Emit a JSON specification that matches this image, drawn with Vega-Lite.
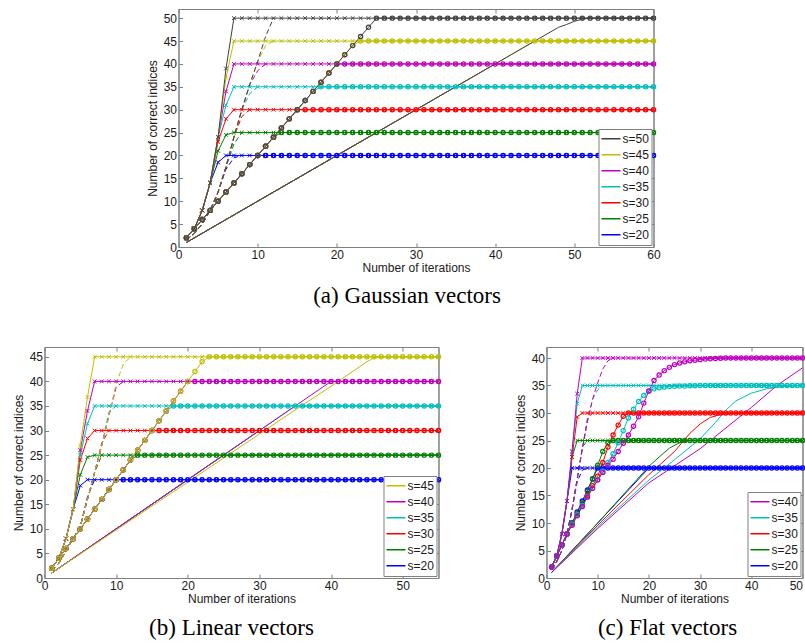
{
"$schema":"https://vega.github.io/schema/vega-lite/v6.json",
"padding":{"left":11,"top":8,"right":0,"bottom":0},
"config":{"font":"Liberation Sans","view":{"stroke":"#808080","strokeWidth":1},
"axis":{"labelFont":"Liberation Sans","labelFontSize":12,"labelColor":"#1a1a1a","titleFont":"Liberation Sans","titleFontSize":12,"titleFontWeight":"normal","titleColor":"#1a1a1a","domainColor":"#808080","tickColor":"#808080","tickSize":-4,"labelPadding":6,"titlePadding":3,"grid":false,"labelFlush":false},
"legend":{"labelFont":"Liberation Sans","labelFontSize":12,"labelColor":"#1a1a1a"},
"title":{"font":"Liberation Serif","fontSize":23,"fontWeight":"normal","color":"#000000","orient":"bottom","anchor":"middle","frame":"group"},
"mark":{"invalid":"filter"}},
"datasets":{
"Aa":[
{"x":1,"20":2,"25":2,"30":2,"35":2,"40":2,"45":2,"50":2},
{"x":2,"20":4,"25":4,"30":4,"35":4,"40":4,"45":4,"50":4},
{"x":3,"20":8,"25":8,"30":8,"35":8,"40":8,"45":8,"50":8},
{"x":4,"20":14,"25":14,"30":14,"35":14,"40":14,"45":14,"50":14},
{"x":5,"20":18.5,"25":21,"30":23,"35":24,"40":24,"45":24,"50":24},
{"x":6,"20":20,"25":24.5,"30":28,"35":31,"40":34,"45":37,"50":39},
{"x":7,"20":20,"25":25,"30":30,"35":35,"40":40,"45":45,"50":50},
{"x":8,"20":20,"25":25,"30":30,"35":35,"40":40,"45":45,"50":50},
{"x":9,"20":20,"25":25,"30":30,"35":35,"40":40,"45":45,"50":50},
{"x":10,"20":20,"25":25,"30":30,"35":35,"40":40,"45":45,"50":50},
{"x":11,"20":20,"25":25,"30":30,"35":35,"40":40,"45":45,"50":50},
{"x":12,"20":20,"25":25,"30":30,"35":35,"40":40,"45":45,"50":50},
{"x":13,"20":20,"25":25,"30":30,"35":35,"40":40,"45":45,"50":50},
{"x":14,"20":20,"25":25,"30":30,"35":35,"40":40,"45":45,"50":50},
{"x":15,"20":20,"25":25,"30":30,"35":35,"40":40,"45":45,"50":50},
{"x":16,"20":20,"25":25,"30":30,"35":35,"40":40,"45":45,"50":50},
{"x":17,"20":20,"25":25,"30":30,"35":35,"40":40,"45":45,"50":50},
{"x":18,"20":20,"25":25,"30":30,"35":35,"40":40,"45":45,"50":50},
{"x":19,"20":20,"25":25,"30":30,"35":35,"40":40,"45":45,"50":50},
{"x":20,"20":20,"25":25,"30":30,"35":35,"40":40,"45":45,"50":50},
{"x":21,"20":20,"25":25,"30":30,"35":35,"40":40,"45":45,"50":50},
{"x":22,"20":20,"25":25,"30":30,"35":35,"40":40,"45":45,"50":50},
{"x":23,"20":20,"25":25,"30":30,"35":35,"40":40,"45":45,"50":50},
{"x":24,"20":20,"25":25,"30":30,"35":35,"40":40,"45":45,"50":50},
{"x":25,"20":20,"25":25,"30":30,"35":35,"40":40,"45":45,"50":50},
{"x":26,"20":20,"25":25,"30":30,"35":35,"40":40,"45":45,"50":50},
{"x":27,"20":20,"25":25,"30":30,"35":35,"40":40,"45":45,"50":50},
{"x":28,"20":20,"25":25,"30":30,"35":35,"40":40,"45":45,"50":50},
{"x":29,"20":20,"25":25,"30":30,"35":35,"40":40,"45":45,"50":50},
{"x":30,"20":20,"25":25,"30":30,"35":35,"40":40,"45":45,"50":50},
{"x":31,"20":20,"25":25,"30":30,"35":35,"40":40,"45":45,"50":50},
{"x":32,"20":20,"25":25,"30":30,"35":35,"40":40,"45":45,"50":50},
{"x":33,"20":20,"25":25,"30":30,"35":35,"40":40,"45":45,"50":50},
{"x":34,"20":20,"25":25,"30":30,"35":35,"40":40,"45":45,"50":50},
{"x":35,"20":20,"25":25,"30":30,"35":35,"40":40,"45":45,"50":50},
{"x":36,"20":20,"25":25,"30":30,"35":35,"40":40,"45":45,"50":50},
{"x":37,"20":20,"25":25,"30":30,"35":35,"40":40,"45":45,"50":50},
{"x":38,"20":20,"25":25,"30":30,"35":35,"40":40,"45":45,"50":50},
{"x":39,"20":20,"25":25,"30":30,"35":35,"40":40,"45":45,"50":50},
{"x":40,"20":20,"25":25,"30":30,"35":35,"40":40,"45":45,"50":50},
{"x":41,"20":20,"25":25,"30":30,"35":35,"40":40,"45":45,"50":50},
{"x":42,"20":20,"25":25,"30":30,"35":35,"40":40,"45":45,"50":50},
{"x":43,"20":20,"25":25,"30":30,"35":35,"40":40,"45":45,"50":50},
{"x":44,"20":20,"25":25,"30":30,"35":35,"40":40,"45":45,"50":50},
{"x":45,"20":20,"25":25,"30":30,"35":35,"40":40,"45":45,"50":50},
{"x":46,"20":20,"25":25,"30":30,"35":35,"40":40,"45":45,"50":50},
{"x":47,"20":20,"25":25,"30":30,"35":35,"40":40,"45":45,"50":50},
{"x":48,"20":20,"25":25,"30":30,"35":35,"40":40,"45":45,"50":50},
{"x":49,"20":20,"25":25,"30":30,"35":35,"40":40,"45":45,"50":50},
{"x":50,"20":20,"25":25,"30":30,"35":35,"40":40,"45":45,"50":50},
{"x":51,"20":20,"25":25,"30":30,"35":35,"40":40,"45":45,"50":50},
{"x":52,"20":20,"25":25,"30":30,"35":35,"40":40,"45":45,"50":50},
{"x":53,"20":20,"25":25,"30":30,"35":35,"40":40,"45":45,"50":50},
{"x":54,"20":20,"25":25,"30":30,"35":35,"40":40,"45":45,"50":50},
{"x":55,"20":20,"25":25,"30":30,"35":35,"40":40,"45":45,"50":50},
{"x":56,"20":20,"25":25,"30":30,"35":35,"40":40,"45":45,"50":50},
{"x":57,"20":20,"25":25,"30":30,"35":35,"40":40,"45":45,"50":50},
{"x":58,"20":20,"25":25,"30":30,"35":35,"40":40,"45":45,"50":50},
{"x":59,"20":20,"25":25,"30":30,"35":35,"40":40,"45":45,"50":50},
{"x":60,"20":20,"25":25,"30":30,"35":35,"40":40,"45":45,"50":50}],
"Ca":[
{"x":1,"20":2,"25":2,"30":2,"35":2,"40":2,"45":2,"50":2},
{"x":2,"20":4,"25":4,"30":4,"35":4,"40":4,"45":4,"50":4},
{"x":3,"20":6,"25":6,"30":6,"35":6,"40":6,"45":6,"50":6},
{"x":4,"20":8,"25":8,"30":8,"35":8,"40":8,"45":8,"50":8},
{"x":5,"20":10,"25":10,"30":10,"35":10,"40":10,"45":10,"50":10},
{"x":6,"20":12,"25":12,"30":12,"35":12,"40":12,"45":12,"50":12},
{"x":7,"20":14,"25":14,"30":14,"35":14,"40":14,"45":14,"50":14},
{"x":8,"20":16,"25":16,"30":16,"35":16,"40":16,"45":16,"50":16},
{"x":9,"20":18,"25":18,"30":18,"35":18,"40":18,"45":18,"50":18},
{"x":10,"20":20,"25":20,"30":20,"35":20,"40":20,"45":20,"50":20},
{"x":11,"20":20,"25":22,"30":22,"35":22,"40":22,"45":22,"50":22},
{"x":12,"20":20,"25":24,"30":24,"35":24,"40":24,"45":24,"50":24},
{"x":13,"20":20,"25":25,"30":26,"35":26,"40":26,"45":26,"50":26},
{"x":14,"20":20,"25":25,"30":28,"35":28,"40":28,"45":28,"50":28},
{"x":15,"20":20,"25":25,"30":30,"35":30,"40":30,"45":30,"50":30},
{"x":16,"20":20,"25":25,"30":30,"35":32,"40":32,"45":32,"50":32},
{"x":17,"20":20,"25":25,"30":30,"35":34,"40":34,"45":34,"50":34},
{"x":18,"20":20,"25":25,"30":30,"35":35,"40":36,"45":36,"50":36},
{"x":19,"20":20,"25":25,"30":30,"35":35,"40":38,"45":38,"50":38},
{"x":20,"20":20,"25":25,"30":30,"35":35,"40":40,"45":40,"50":40},
{"x":21,"20":20,"25":25,"30":30,"35":35,"40":40,"45":42,"50":42},
{"x":22,"20":20,"25":25,"30":30,"35":35,"40":40,"45":44,"50":44},
{"x":23,"20":20,"25":25,"30":30,"35":35,"40":40,"45":45,"50":46},
{"x":24,"20":20,"25":25,"30":30,"35":35,"40":40,"45":45,"50":48},
{"x":25,"20":20,"25":25,"30":30,"35":35,"40":40,"45":45,"50":50},
{"x":26,"20":20,"25":25,"30":30,"35":35,"40":40,"45":45,"50":50},
{"x":27,"20":20,"25":25,"30":30,"35":35,"40":40,"45":45,"50":50},
{"x":28,"20":20,"25":25,"30":30,"35":35,"40":40,"45":45,"50":50},
{"x":29,"20":20,"25":25,"30":30,"35":35,"40":40,"45":45,"50":50},
{"x":30,"20":20,"25":25,"30":30,"35":35,"40":40,"45":45,"50":50},
{"x":31,"20":20,"25":25,"30":30,"35":35,"40":40,"45":45,"50":50},
{"x":32,"20":20,"25":25,"30":30,"35":35,"40":40,"45":45,"50":50},
{"x":33,"20":20,"25":25,"30":30,"35":35,"40":40,"45":45,"50":50},
{"x":34,"20":20,"25":25,"30":30,"35":35,"40":40,"45":45,"50":50},
{"x":35,"20":20,"25":25,"30":30,"35":35,"40":40,"45":45,"50":50},
{"x":36,"20":20,"25":25,"30":30,"35":35,"40":40,"45":45,"50":50},
{"x":37,"20":20,"25":25,"30":30,"35":35,"40":40,"45":45,"50":50},
{"x":38,"20":20,"25":25,"30":30,"35":35,"40":40,"45":45,"50":50},
{"x":39,"20":20,"25":25,"30":30,"35":35,"40":40,"45":45,"50":50},
{"x":40,"20":20,"25":25,"30":30,"35":35,"40":40,"45":45,"50":50},
{"x":41,"20":20,"25":25,"30":30,"35":35,"40":40,"45":45,"50":50},
{"x":42,"20":20,"25":25,"30":30,"35":35,"40":40,"45":45,"50":50},
{"x":43,"20":20,"25":25,"30":30,"35":35,"40":40,"45":45,"50":50},
{"x":44,"20":20,"25":25,"30":30,"35":35,"40":40,"45":45,"50":50},
{"x":45,"20":20,"25":25,"30":30,"35":35,"40":40,"45":45,"50":50},
{"x":46,"20":20,"25":25,"30":30,"35":35,"40":40,"45":45,"50":50},
{"x":47,"20":20,"25":25,"30":30,"35":35,"40":40,"45":45,"50":50},
{"x":48,"20":20,"25":25,"30":30,"35":35,"40":40,"45":45,"50":50},
{"x":49,"20":20,"25":25,"30":30,"35":35,"40":40,"45":45,"50":50},
{"x":50,"20":20,"25":25,"30":30,"35":35,"40":40,"45":45,"50":50},
{"x":51,"20":20,"25":25,"30":30,"35":35,"40":40,"45":45,"50":50},
{"x":52,"20":20,"25":25,"30":30,"35":35,"40":40,"45":45,"50":50},
{"x":53,"20":20,"25":25,"30":30,"35":35,"40":40,"45":45,"50":50},
{"x":54,"20":20,"25":25,"30":30,"35":35,"40":40,"45":45,"50":50},
{"x":55,"20":20,"25":25,"30":30,"35":35,"40":40,"45":45,"50":50},
{"x":56,"20":20,"25":25,"30":30,"35":35,"40":40,"45":45,"50":50},
{"x":57,"20":20,"25":25,"30":30,"35":35,"40":40,"45":45,"50":50},
{"x":58,"20":20,"25":25,"30":30,"35":35,"40":40,"45":45,"50":50},
{"x":59,"20":20,"25":25,"30":30,"35":35,"40":40,"45":45,"50":50},
{"x":60,"20":20,"25":25,"30":30,"35":35,"40":40,"45":45,"50":50}],
"Ba":[
{"x":1,"20":1.5,"25":1.5,"30":1.5,"35":1.5,"40":1.5,"45":1.5,"50":1.5},
{"x":2,"20":3,"25":3,"30":3,"35":3,"40":3,"45":3,"50":3},
{"x":3,"20":5,"25":5,"30":5,"35":5,"40":5,"45":5,"50":5},
{"x":4,"20":8,"25":8,"30":8,"35":8,"40":8,"45":8,"50":8},
{"x":5,"20":12,"25":12,"30":12,"35":12,"40":12,"45":12,"50":12},
{"x":6,"20":17,"25":17.5,"30":17.5,"35":17.5,"40":17.5,"45":17.5,"50":17.5},
{"x":7,"20":19.5,"25":22.5,"30":24,"35":24,"40":24,"45":24,"50":24},
{"x":8,"20":20,"25":25,"30":28.5,"35":30,"40":30,"45":30,"50":30},
{"x":9,"30":30,"35":33.5,"40":35.5,"45":35.5,"50":35.5},
{"x":10,"35":35,"40":38.5,"45":40.5,"50":40.5},
{"x":11,"40":40,"45":44,"50":46},
{"x":12,"45":45,"50":50}],
"Da":[
{"x":1,"20":1,"25":1,"30":1,"35":1,"40":1,"45":1,"50":1},
{"x":20,"20":20,"25":20,"30":20,"35":20,"40":20,"45":20,"50":20},
{"x":25,"20":20,"25":25,"30":25,"35":25,"40":25,"45":25,"50":25},
{"x":30,"20":20,"25":25,"30":30,"35":30,"40":30,"45":30,"50":30},
{"x":35,"20":20,"25":25,"30":30,"35":35,"40":35,"45":35,"50":35},
{"x":40,"20":20,"25":25,"30":30,"35":35,"40":40,"45":40,"50":40},
{"x":45,"20":20,"25":25,"30":30,"35":35,"40":40,"45":45,"50":45},
{"x":48,"50":48},
{"x":49,"50":48.6},
{"x":50,"50":49.3},
{"x":51,"50":49.8},
{"x":52,"50":50},
{"x":60,"20":20,"25":25,"30":30,"35":35,"40":40,"45":45,"50":50}],
"Ab":[
{"x":1,"20":2,"25":2,"30":2,"35":2,"40":2,"45":2},
{"x":2,"20":4,"25":4,"30":4,"35":4,"40":4,"45":4},
{"x":3,"20":8,"25":8,"30":8,"35":8,"40":8,"45":8},
{"x":4,"20":14,"25":14,"30":14,"35":14,"40":14,"45":14},
{"x":5,"20":18.8,"25":21,"30":24,"35":25,"40":26,"45":27},
{"x":6,"20":20,"25":24.6,"30":28.4,"35":31.4,"40":34,"45":36.8},
{"x":7,"20":20,"25":25,"30":30,"35":35,"40":40,"45":45},
{"x":8,"20":20,"25":25,"30":30,"35":35,"40":40,"45":45},
{"x":9,"20":20,"25":25,"30":30,"35":35,"40":40,"45":45},
{"x":10,"20":20,"25":25,"30":30,"35":35,"40":40,"45":45},
{"x":11,"20":20,"25":25,"30":30,"35":35,"40":40,"45":45},
{"x":12,"20":20,"25":25,"30":30,"35":35,"40":40,"45":45},
{"x":13,"20":20,"25":25,"30":30,"35":35,"40":40,"45":45},
{"x":14,"20":20,"25":25,"30":30,"35":35,"40":40,"45":45},
{"x":15,"20":20,"25":25,"30":30,"35":35,"40":40,"45":45},
{"x":16,"20":20,"25":25,"30":30,"35":35,"40":40,"45":45},
{"x":17,"20":20,"25":25,"30":30,"35":35,"40":40,"45":45},
{"x":18,"20":20,"25":25,"30":30,"35":35,"40":40,"45":45},
{"x":19,"20":20,"25":25,"30":30,"35":35,"40":40,"45":45},
{"x":20,"20":20,"25":25,"30":30,"35":35,"40":40,"45":45},
{"x":21,"20":20,"25":25,"30":30,"35":35,"40":40,"45":45},
{"x":22,"20":20,"25":25,"30":30,"35":35,"40":40,"45":45},
{"x":23,"20":20,"25":25,"30":30,"35":35,"40":40,"45":45},
{"x":24,"20":20,"25":25,"30":30,"35":35,"40":40,"45":45},
{"x":25,"20":20,"25":25,"30":30,"35":35,"40":40,"45":45},
{"x":26,"20":20,"25":25,"30":30,"35":35,"40":40,"45":45},
{"x":27,"20":20,"25":25,"30":30,"35":35,"40":40,"45":45},
{"x":28,"20":20,"25":25,"30":30,"35":35,"40":40,"45":45},
{"x":29,"20":20,"25":25,"30":30,"35":35,"40":40,"45":45},
{"x":30,"20":20,"25":25,"30":30,"35":35,"40":40,"45":45},
{"x":31,"20":20,"25":25,"30":30,"35":35,"40":40,"45":45},
{"x":32,"20":20,"25":25,"30":30,"35":35,"40":40,"45":45},
{"x":33,"20":20,"25":25,"30":30,"35":35,"40":40,"45":45},
{"x":34,"20":20,"25":25,"30":30,"35":35,"40":40,"45":45},
{"x":35,"20":20,"25":25,"30":30,"35":35,"40":40,"45":45},
{"x":36,"20":20,"25":25,"30":30,"35":35,"40":40,"45":45},
{"x":37,"20":20,"25":25,"30":30,"35":35,"40":40,"45":45},
{"x":38,"20":20,"25":25,"30":30,"35":35,"40":40,"45":45},
{"x":39,"20":20,"25":25,"30":30,"35":35,"40":40,"45":45},
{"x":40,"20":20,"25":25,"30":30,"35":35,"40":40,"45":45},
{"x":41,"20":20,"25":25,"30":30,"35":35,"40":40,"45":45},
{"x":42,"20":20,"25":25,"30":30,"35":35,"40":40,"45":45},
{"x":43,"20":20,"25":25,"30":30,"35":35,"40":40,"45":45},
{"x":44,"20":20,"25":25,"30":30,"35":35,"40":40,"45":45},
{"x":45,"20":20,"25":25,"30":30,"35":35,"40":40,"45":45},
{"x":46,"20":20,"25":25,"30":30,"35":35,"40":40,"45":45},
{"x":47,"20":20,"25":25,"30":30,"35":35,"40":40,"45":45},
{"x":48,"20":20,"25":25,"30":30,"35":35,"40":40,"45":45},
{"x":49,"20":20,"25":25,"30":30,"35":35,"40":40,"45":45},
{"x":50,"20":20,"25":25,"30":30,"35":35,"40":40,"45":45},
{"x":51,"20":20,"25":25,"30":30,"35":35,"40":40,"45":45},
{"x":52,"20":20,"25":25,"30":30,"35":35,"40":40,"45":45},
{"x":53,"20":20,"25":25,"30":30,"35":35,"40":40,"45":45},
{"x":54,"20":20,"25":25,"30":30,"35":35,"40":40,"45":45},
{"x":55,"20":20,"25":25,"30":30,"35":35,"40":40,"45":45}],
"Cb":[
{"x":1,"20":2,"25":2,"30":2,"35":2,"40":2,"45":2},
{"x":2,"20":4,"25":4,"30":4,"35":4,"40":4,"45":4},
{"x":3,"20":6,"25":6,"30":6,"35":6,"40":6,"45":6},
{"x":4,"20":8,"25":8,"30":8,"35":8,"40":8,"45":8},
{"x":5,"20":10,"25":10,"30":10,"35":10,"40":10,"45":10},
{"x":6,"20":12,"25":12,"30":12,"35":12,"40":12,"45":12},
{"x":7,"20":14,"25":14,"30":14,"35":14,"40":14,"45":14},
{"x":8,"20":16,"25":16,"30":16,"35":16,"40":16,"45":16},
{"x":9,"20":18,"25":18,"30":18,"35":18,"40":18,"45":18},
{"x":10,"20":20,"25":20,"30":20,"35":20,"40":20,"45":20},
{"x":11,"20":20,"25":22,"30":22,"35":22,"40":22,"45":22},
{"x":12,"20":20,"25":24,"30":24,"35":24,"40":24,"45":24},
{"x":13,"20":20,"25":25,"30":26,"35":26,"40":26,"45":26},
{"x":14,"20":20,"25":25,"30":28,"35":28,"40":28,"45":28},
{"x":15,"20":20,"25":25,"30":30,"35":30,"40":30,"45":30},
{"x":16,"20":20,"25":25,"30":30,"35":32,"40":32,"45":32},
{"x":17,"20":20,"25":25,"30":30,"35":34,"40":34,"45":34},
{"x":18,"20":20,"25":25,"30":30,"35":35,"40":36,"45":36},
{"x":19,"20":20,"25":25,"30":30,"35":35,"40":38,"45":38},
{"x":20,"20":20,"25":25,"30":30,"35":35,"40":40,"45":40},
{"x":21,"20":20,"25":25,"30":30,"35":35,"40":40,"45":42},
{"x":22,"20":20,"25":25,"30":30,"35":35,"40":40,"45":44},
{"x":23,"20":20,"25":25,"30":30,"35":35,"40":40,"45":45},
{"x":24,"20":20,"25":25,"30":30,"35":35,"40":40,"45":45},
{"x":25,"20":20,"25":25,"30":30,"35":35,"40":40,"45":45},
{"x":26,"20":20,"25":25,"30":30,"35":35,"40":40,"45":45},
{"x":27,"20":20,"25":25,"30":30,"35":35,"40":40,"45":45},
{"x":28,"20":20,"25":25,"30":30,"35":35,"40":40,"45":45},
{"x":29,"20":20,"25":25,"30":30,"35":35,"40":40,"45":45},
{"x":30,"20":20,"25":25,"30":30,"35":35,"40":40,"45":45},
{"x":31,"20":20,"25":25,"30":30,"35":35,"40":40,"45":45},
{"x":32,"20":20,"25":25,"30":30,"35":35,"40":40,"45":45},
{"x":33,"20":20,"25":25,"30":30,"35":35,"40":40,"45":45},
{"x":34,"20":20,"25":25,"30":30,"35":35,"40":40,"45":45},
{"x":35,"20":20,"25":25,"30":30,"35":35,"40":40,"45":45},
{"x":36,"20":20,"25":25,"30":30,"35":35,"40":40,"45":45},
{"x":37,"20":20,"25":25,"30":30,"35":35,"40":40,"45":45},
{"x":38,"20":20,"25":25,"30":30,"35":35,"40":40,"45":45},
{"x":39,"20":20,"25":25,"30":30,"35":35,"40":40,"45":45},
{"x":40,"20":20,"25":25,"30":30,"35":35,"40":40,"45":45},
{"x":41,"20":20,"25":25,"30":30,"35":35,"40":40,"45":45},
{"x":42,"20":20,"25":25,"30":30,"35":35,"40":40,"45":45},
{"x":43,"20":20,"25":25,"30":30,"35":35,"40":40,"45":45},
{"x":44,"20":20,"25":25,"30":30,"35":35,"40":40,"45":45},
{"x":45,"20":20,"25":25,"30":30,"35":35,"40":40,"45":45},
{"x":46,"20":20,"25":25,"30":30,"35":35,"40":40,"45":45},
{"x":47,"20":20,"25":25,"30":30,"35":35,"40":40,"45":45},
{"x":48,"20":20,"25":25,"30":30,"35":35,"40":40,"45":45},
{"x":49,"20":20,"25":25,"30":30,"35":35,"40":40,"45":45},
{"x":50,"20":20,"25":25,"30":30,"35":35,"40":40,"45":45},
{"x":51,"20":20,"25":25,"30":30,"35":35,"40":40,"45":45},
{"x":52,"20":20,"25":25,"30":30,"35":35,"40":40,"45":45},
{"x":53,"20":20,"25":25,"30":30,"35":35,"40":40,"45":45},
{"x":54,"20":20,"25":25,"30":30,"35":35,"40":40,"45":45},
{"x":55,"20":20,"25":25,"30":30,"35":35,"40":40,"45":45}],
"Bb":[
{"x":1,"20":1.5,"25":1.5,"30":1.5,"35":1.5,"40":1.5,"45":1.5},
{"x":2,"20":3,"25":3,"30":3,"35":3,"40":3,"45":3},
{"x":3,"20":5.5,"25":5.5,"30":5.5,"35":5.5,"40":5.5,"45":5.5},
{"x":4,"20":8,"25":8,"30":8,"35":8,"40":8,"45":8},
{"x":5,"20":10.5,"25":10.5,"30":10.5,"35":10.5,"40":10.5,"45":10.5},
{"x":6,"20":16.5,"25":16,"30":16,"35":16,"40":16,"45":16},
{"x":7,"20":20,"25":21.5,"30":21.5,"35":21.5,"40":21.5,"45":21.5},
{"x":8,"25":25,"30":27.5,"35":27,"40":27,"45":27},
{"x":9,"30":30,"35":33.8,"40":33,"45":33},
{"x":10,"35":35,"40":38.8,"45":39.5},
{"x":11,"40":40,"45":43.5},
{"x":12,"45":45}],
"Db":[
{"x":1,"20":1,"25":1,"30":1,"35":1,"40":1,"45":1},
{"x":20,"20":20,"25":20,"30":20,"35":20,"40":20,"45":19.5},
{"x":25,"20":20,"25":25,"30":25,"35":25,"40":25,"45":24.4},
{"x":30,"20":20,"25":25,"30":30,"35":30,"40":30,"45":29.3},
{"x":35,"20":20,"25":25,"30":30,"35":35,"40":35,"45":34.2},
{"x":40,"20":20,"25":25,"30":30,"35":35,"40":40,"45":39},
{"x":41,"45":40},
{"x":45,"45":44},
{"x":46,"45":44.8},
{"x":47,"45":45},
{"x":55,"20":20,"25":25,"30":30,"35":35,"40":40,"45":45}],
"Ac":[
{"x":1,"20":2,"25":2,"30":2,"35":2,"40":2},
{"x":2,"20":4,"25":4,"30":4,"35":4,"40":4},
{"x":3,"20":8,"25":8,"30":8,"35":8,"40":8},
{"x":4,"20":14,"25":14,"30":14,"35":14,"40":14},
{"x":5,"20":20,"25":22,"30":22,"35":23,"40":23},
{"x":6,"20":20,"25":25,"30":29.3,"35":31.7,"40":33.5},
{"x":7,"20":20,"25":25,"30":30,"35":35,"40":40},
{"x":8,"20":20,"25":25,"30":30,"35":35,"40":40},
{"x":9,"20":20,"25":25,"30":30,"35":35,"40":40},
{"x":10,"20":20,"25":25,"30":30,"35":35,"40":40},
{"x":11,"20":20,"25":25,"30":30,"35":35,"40":40},
{"x":12,"20":20,"25":25,"30":30,"35":35,"40":40},
{"x":13,"20":20,"25":25,"30":30,"35":35,"40":40},
{"x":14,"20":20,"25":25,"30":30,"35":35,"40":40},
{"x":15,"20":20,"25":25,"30":30,"35":35,"40":40},
{"x":16,"20":20,"25":25,"30":30,"35":35,"40":40},
{"x":17,"20":20,"25":25,"30":30,"35":35,"40":40},
{"x":18,"20":20,"25":25,"30":30,"35":35,"40":40},
{"x":19,"20":20,"25":25,"30":30,"35":35,"40":40},
{"x":20,"20":20,"25":25,"30":30,"35":35,"40":40},
{"x":21,"20":20,"25":25,"30":30,"35":35,"40":40},
{"x":22,"20":20,"25":25,"30":30,"35":35,"40":40},
{"x":23,"20":20,"25":25,"30":30,"35":35,"40":40},
{"x":24,"20":20,"25":25,"30":30,"35":35,"40":40},
{"x":25,"20":20,"25":25,"30":30,"35":35,"40":40},
{"x":26,"20":20,"25":25,"30":30,"35":35,"40":40},
{"x":27,"20":20,"25":25,"30":30,"35":35,"40":40},
{"x":28,"20":20,"25":25,"30":30,"35":35,"40":40},
{"x":29,"20":20,"25":25,"30":30,"35":35,"40":40},
{"x":30,"20":20,"25":25,"30":30,"35":35,"40":40},
{"x":31,"20":20,"25":25,"30":30,"35":35,"40":40},
{"x":32,"20":20,"25":25,"30":30,"35":35,"40":40},
{"x":33,"20":20,"25":25,"30":30,"35":35,"40":40},
{"x":34,"20":20,"25":25,"30":30,"35":35,"40":40},
{"x":35,"20":20,"25":25,"30":30,"35":35,"40":40},
{"x":36,"20":20,"25":25,"30":30,"35":35,"40":40},
{"x":37,"20":20,"25":25,"30":30,"35":35,"40":40},
{"x":38,"20":20,"25":25,"30":30,"35":35,"40":40},
{"x":39,"20":20,"25":25,"30":30,"35":35,"40":40},
{"x":40,"20":20,"25":25,"30":30,"35":35,"40":40},
{"x":41,"20":20,"25":25,"30":30,"35":35,"40":40},
{"x":42,"20":20,"25":25,"30":30,"35":35,"40":40},
{"x":43,"20":20,"25":25,"30":30,"35":35,"40":40},
{"x":44,"20":20,"25":25,"30":30,"35":35,"40":40},
{"x":45,"20":20,"25":25,"30":30,"35":35,"40":40},
{"x":46,"20":20,"25":25,"30":30,"35":35,"40":40},
{"x":47,"20":20,"25":25,"30":30,"35":35,"40":40},
{"x":48,"20":20,"25":25,"30":30,"35":35,"40":40},
{"x":49,"20":20,"25":25,"30":30,"35":35,"40":40},
{"x":50,"20":20,"25":25,"30":30,"35":35,"40":40}],
"Cc":[
{"x":1,"20":2,"25":2,"30":2,"35":2,"40":2},
{"x":2,"20":4,"25":4,"30":4,"35":4,"40":4},
{"x":3,"20":6,"25":6,"30":6,"35":6,"40":6},
{"x":4,"20":8,"25":8,"30":8,"35":8,"40":8},
{"x":5,"20":10,"25":10,"30":9.8,"35":9.8,"40":9.6},
{"x":6,"20":12,"25":11.8,"30":11.5,"35":11.5,"40":11.3},
{"x":7,"20":14,"25":13.7,"30":13.2,"35":13.2,"40":13},
{"x":8,"20":16,"25":15.8,"30":15,"35":14.8,"40":14.7},
{"x":9,"20":18,"25":18,"30":16.8,"35":16.4,"40":16.3},
{"x":10,"20":20,"25":20.5,"30":18.5,"35":17.9,"40":17.8},
{"x":11,"20":20,"25":23,"30":21,"35":19.4,"40":19.2},
{"x":12,"20":20,"25":24.6,"30":23.8,"35":21,"40":20.5},
{"x":13,"20":20,"25":25,"30":26,"35":22.6,"40":21.6},
{"x":14,"20":20,"25":25,"30":27.8,"35":24.6,"40":23},
{"x":15,"20":20,"25":25,"30":29.4,"35":26.8,"40":24.5},
{"x":16,"20":20,"25":25,"30":30,"35":29.1,"40":26},
{"x":17,"20":20,"25":25,"30":30,"35":30.7,"40":27.6},
{"x":18,"20":20,"25":25,"30":30,"35":32.1,"40":29.3},
{"x":19,"20":20,"25":25,"30":30,"35":33.2,"40":31.8},
{"x":20,"20":20,"25":25,"30":30,"35":34,"40":34},
{"x":21,"20":20,"25":25,"30":30,"35":34.4,"40":35.9},
{"x":22,"20":20,"25":25,"30":30,"35":34.6,"40":36.9},
{"x":23,"20":20,"25":25,"30":30,"35":34.7,"40":37.7},
{"x":24,"20":20,"25":25,"30":30,"35":34.8,"40":38.3},
{"x":25,"20":20,"25":25,"30":30,"35":34.85,"40":38.8},
{"x":26,"20":20,"25":25,"30":30,"35":34.9,"40":39.1},
{"x":27,"20":20,"25":25,"30":30,"35":34.9,"40":39.3},
{"x":28,"20":20,"25":25,"30":30,"35":34.95,"40":39.5},
{"x":29,"20":20,"25":25,"30":30,"35":34.95,"40":39.6},
{"x":30,"20":20,"25":25,"30":30,"35":35,"40":39.7},
{"x":31,"20":20,"25":25,"30":30,"35":35,"40":39.8},
{"x":32,"20":20,"25":25,"30":30,"35":35,"40":39.85},
{"x":33,"20":20,"25":25,"30":30,"35":35,"40":39.9},
{"x":34,"20":20,"25":25,"30":30,"35":35,"40":39.95},
{"x":35,"20":20,"25":25,"30":30,"35":35,"40":40},
{"x":36,"20":20,"25":25,"30":30,"35":35,"40":40},
{"x":37,"20":20,"25":25,"30":30,"35":35,"40":40},
{"x":38,"20":20,"25":25,"30":30,"35":35,"40":40},
{"x":39,"20":20,"25":25,"30":30,"35":35,"40":40},
{"x":40,"20":20,"25":25,"30":30,"35":35,"40":40},
{"x":41,"20":20,"25":25,"30":30,"35":35,"40":40},
{"x":42,"20":20,"25":25,"30":30,"35":35,"40":40},
{"x":43,"20":20,"25":25,"30":30,"35":35,"40":40},
{"x":44,"20":20,"25":25,"30":30,"35":35,"40":40},
{"x":45,"20":20,"25":25,"30":30,"35":35,"40":40},
{"x":46,"20":20,"25":25,"30":30,"35":35,"40":40},
{"x":47,"20":20,"25":25,"30":30,"35":35,"40":40},
{"x":48,"20":20,"25":25,"30":30,"35":35,"40":40},
{"x":49,"20":20,"25":25,"30":30,"35":35,"40":40},
{"x":50,"20":20,"25":25,"30":30,"35":35,"40":40}],
"Bc":[
{"x":1,"20":1.5,"25":1.5,"30":1.5,"35":1.5,"40":1.5},
{"x":2,"20":3,"25":3,"30":3,"35":3,"40":3},
{"x":3,"20":5,"25":5,"30":5,"35":5,"40":5},
{"x":4,"20":8,"25":8,"30":8,"35":8,"40":8},
{"x":5,"20":12.5,"25":12.5,"30":12.5,"35":12.5,"40":12.5},
{"x":6,"20":17.5,"25":18,"30":18,"35":18,"40":18},
{"x":7,"20":19.6,"25":23.8,"30":23.5,"35":23.5,"40":23.5},
{"x":8,"20":20,"25":25,"30":29,"35":28.5,"40":28.5},
{"x":9,"30":30,"35":32.5,"40":32.5},
{"x":10,"35":34.2,"40":35.5},
{"x":11,"35":35,"40":38},
{"x":12,"40":39.5},
{"x":13,"40":40}],
"Dc":[
{"x":1,"20":1,"25":1,"30":1,"35":1,"40":1},
{"x":10,"20":10,"25":10,"30":9.6,"35":9.3,"40":9},
{"x":20,"20":20,"25":20.3,"30":18.8,"35":17.8,"40":17.3},
{"x":22,"25":22},
{"x":24,"25":23.6},
{"x":25,"30":23,"35":21.5},
{"x":26,"25":24.6},
{"x":28,"25":25,"30":26.3},
{"x":30,"30":28,"35":25.3,"40":23.5},
{"x":32,"30":29.2},
{"x":33,"35":28.3},
{"x":34,"30":29.7},
{"x":35,"35":30.5},
{"x":37,"30":30,"35":32.2},
{"x":40,"35":33.6,"40":31},
{"x":43,"35":34.4},
{"x":45,"40":35},
{"x":46,"35":34.8},
{"x":50,"20":20,"25":25,"30":30,"35":35,"40":38.2}]
},
"vconcat":[
{"width":475,"height":238,
 "title":{"text":"(a) Gaussian vectors","dx":-9,"offset":12},
 "layer":[
  {"data":{"name":"Da"},"transform":[{"fold":["20","25","30","35","40","45","50"],"as":["s","y"]},{"filter":{"field":"y","valid":true}}],
   "mark":{"type":"line","strokeWidth":1},
   "encoding":{"x":{"field":"x","type":"quantitative","scale":{"domain":[0,60],"nice":false},"axis":{"orient":"bottom","values":[0,10,20,30,40,50,60],"title":"Number of iterations","titlePadding":2}},
    "y":{"field":"y","type":"quantitative","scale":{"domain":[0,52],"nice":false},"axis":{"orient":"left","values":[0,5,10,15,20,25,30,35,40,45,50],"title":"Number of correct indices","titlePadding":4}},
    "color":{"field":"s","type":"nominal","scale":{"domain":["50","45","40","35","30","25","20"],"range":["#404040","#bfbf00","#bf00bf","#00bfbf","#ff0000","#008000","#0000ff"]},
     "legend":{"orient":"bottom-right","offset":2,"title":null,"symbolType":"stroke","symbolSize":361,"symbolStrokeWidth":1.5,"labelExpr":"'s=' + datum.label","padding":2,"rowPadding":0,"clipHeight":15.6,"labelOffset":1,"strokeColor":"#808080","fillColor":"#ffffff"}}}},
  {"data":{"name":"Ba"},"transform":[{"fold":["20","25","30","35","40","45","50"],"as":["s","y"]},{"filter":{"field":"y","valid":true}}],
   "mark":{"type":"line","strokeWidth":1,"strokeDash":[5,3]},
   "encoding":{"x":{"field":"x","type":"quantitative","scale":{"domain":[0,60],"nice":false},"axis":{"orient":"top","values":[0,10,20,30,40,50,60],"labels":false,"title":null}},
    "y":{"field":"y","type":"quantitative","scale":{"domain":[0,52],"nice":false},"axis":{"orient":"right","values":[0,5,10,15,20,25,30,35,40,45,50],"labels":false,"title":" ","titlePadding":6}},
    "color":{"field":"s","type":"nominal","scale":{"domain":["50","45","40","35","30","25","20"],"range":["#404040","#bfbf00","#bf00bf","#00bfbf","#ff0000","#008000","#0000ff"]},"legend":null}}},
  {"data":{"name":"Aa"},"transform":[{"fold":["20","25","30","35","40","45","50"],"as":["s","y"]},{"filter":{"field":"y","valid":true}}],
   "mark":{"type":"line","strokeWidth":1},
   "encoding":{"x":{"field":"x","type":"quantitative","scale":{"domain":[0,60],"nice":false},"axis":null},
    "y":{"field":"y","type":"quantitative","scale":{"domain":[0,52],"nice":false},"axis":null},
    "color":{"field":"s","type":"nominal","scale":{"domain":["50","45","40","35","30","25","20"],"range":["#404040","#bfbf00","#bf00bf","#00bfbf","#ff0000","#008000","#0000ff"]},"legend":null}}},
  {"data":{"name":"Ca"},"transform":[{"fold":["20","25","30","35","40","45","50"],"as":["s","y"]},{"filter":{"field":"y","valid":true}}],
   "mark":{"type":"line","strokeWidth":1},
   "encoding":{"x":{"field":"x","type":"quantitative","scale":{"domain":[0,60],"nice":false},"axis":null},
    "y":{"field":"y","type":"quantitative","scale":{"domain":[0,52],"nice":false},"axis":null},
    "color":{"field":"s","type":"nominal","scale":{"domain":["50","45","40","35","30","25","20"],"range":["#404040","#bfbf00","#bf00bf","#00bfbf","#ff0000","#008000","#0000ff"]},"legend":null}}},
  {"data":{"name":"Aa"},"transform":[{"fold":["20","25","30","35","40","45","50"],"as":["s","y"]},{"filter":{"field":"y","valid":true}}],
   "mark":{"type":"point","shape":"M-1,-1L1,1M-1,1L1,-1","filled":false,"size":14,"strokeWidth":1,"opacity":1},
   "encoding":{"x":{"field":"x","type":"quantitative","scale":{"domain":[0,60],"nice":false},"axis":null},
    "y":{"field":"y","type":"quantitative","scale":{"domain":[0,52],"nice":false},"axis":null},
    "color":{"field":"s","type":"nominal","scale":{"domain":["50","45","40","35","30","25","20"],"range":["#404040","#bfbf00","#bf00bf","#00bfbf","#ff0000","#008000","#0000ff"]},"legend":null}}},
  {"data":{"name":"Ca"},"transform":[{"fold":["20","25","30","35","40","45","50"],"as":["s","y"]},{"filter":{"field":"y","valid":true}}],
   "mark":{"type":"point","shape":"circle","filled":false,"size":18,"strokeWidth":1.2,"opacity":1},
   "encoding":{"x":{"field":"x","type":"quantitative","scale":{"domain":[0,60],"nice":false},"axis":null},
    "y":{"field":"y","type":"quantitative","scale":{"domain":[0,52],"nice":false},"axis":null},
    "color":{"field":"s","type":"nominal","scale":{"domain":["50","45","40","35","30","25","20"],"range":["#404040","#bfbf00","#bf00bf","#00bfbf","#ff0000","#008000","#0000ff"]},"legend":null}}}
 ]},
{"hconcat":[
 {"width":394,"height":231,
 "title":{"text":"(b) Linear vectors","dx":-10,"offset":13},
 "layer":[
  {"data":{"name":"Db"},"transform":[{"fold":["20","25","30","35","40","45"],"as":["s","y"]},{"filter":{"field":"y","valid":true}}],
   "mark":{"type":"line","strokeWidth":1},
   "encoding":{"x":{"field":"x","type":"quantitative","scale":{"domain":[0,55],"nice":false},"axis":{"orient":"bottom","values":[0,10,20,30,40,50],"title":"Number of iterations","titlePadding":2}},
    "y":{"field":"y","type":"quantitative","scale":{"domain":[0,47],"nice":false},"axis":{"orient":"left","values":[0,5,10,15,20,25,30,35,40,45],"title":"Number of correct indices","titlePadding":4}},
    "color":{"field":"s","type":"nominal","scale":{"domain":["45","40","35","30","25","20"],"range":["#bfbf00","#bf00bf","#00bfbf","#ff0000","#008000","#0000ff"]},
     "legend":{"orient":"bottom-right","offset":2,"title":null,"symbolType":"stroke","symbolSize":361,"symbolStrokeWidth":1.5,"labelExpr":"'s=' + datum.label","padding":2,"rowPadding":0,"clipHeight":15.6,"labelOffset":1,"strokeColor":"#808080","fillColor":"#ffffff"}}}},
  {"data":{"name":"Bb"},"transform":[{"fold":["20","25","30","35","40","45"],"as":["s","y"]},{"filter":{"field":"y","valid":true}}],
   "mark":{"type":"line","strokeWidth":1,"strokeDash":[5,3]},
   "encoding":{"x":{"field":"x","type":"quantitative","scale":{"domain":[0,55],"nice":false},"axis":{"orient":"top","values":[0,10,20,30,40,50],"labels":false,"title":null}},
    "y":{"field":"y","type":"quantitative","scale":{"domain":[0,47],"nice":false},"axis":{"orient":"right","values":[0,5,10,15,20,25,30,35,40,45],"labels":false,"title":null}},
    "color":{"field":"s","type":"nominal","scale":{"domain":["45","40","35","30","25","20"],"range":["#bfbf00","#bf00bf","#00bfbf","#ff0000","#008000","#0000ff"]},"legend":null}}},
  {"data":{"name":"Ab"},"transform":[{"fold":["20","25","30","35","40","45"],"as":["s","y"]},{"filter":{"field":"y","valid":true}}],
   "mark":{"type":"line","strokeWidth":1},
   "encoding":{"x":{"field":"x","type":"quantitative","scale":{"domain":[0,55],"nice":false},"axis":null},
    "y":{"field":"y","type":"quantitative","scale":{"domain":[0,47],"nice":false},"axis":null},
    "color":{"field":"s","type":"nominal","scale":{"domain":["45","40","35","30","25","20"],"range":["#bfbf00","#bf00bf","#00bfbf","#ff0000","#008000","#0000ff"]},"legend":null}}},
  {"data":{"name":"Cb"},"transform":[{"fold":["20","25","30","35","40","45"],"as":["s","y"]},{"filter":{"field":"y","valid":true}}],
   "mark":{"type":"line","strokeWidth":1},
   "encoding":{"x":{"field":"x","type":"quantitative","scale":{"domain":[0,55],"nice":false},"axis":null},
    "y":{"field":"y","type":"quantitative","scale":{"domain":[0,47],"nice":false},"axis":null},
    "color":{"field":"s","type":"nominal","scale":{"domain":["45","40","35","30","25","20"],"range":["#bfbf00","#bf00bf","#00bfbf","#ff0000","#008000","#0000ff"]},"legend":null}}},
  {"data":{"name":"Ab"},"transform":[{"fold":["20","25","30","35","40","45"],"as":["s","y"]},{"filter":{"field":"y","valid":true}}],
   "mark":{"type":"point","shape":"M-1,-1L1,1M-1,1L1,-1","filled":false,"size":14,"strokeWidth":1,"opacity":1},
   "encoding":{"x":{"field":"x","type":"quantitative","scale":{"domain":[0,55],"nice":false},"axis":null},
    "y":{"field":"y","type":"quantitative","scale":{"domain":[0,47],"nice":false},"axis":null},
    "color":{"field":"s","type":"nominal","scale":{"domain":["45","40","35","30","25","20"],"range":["#bfbf00","#bf00bf","#00bfbf","#ff0000","#008000","#0000ff"]},"legend":null}}},
  {"data":{"name":"Cb"},"transform":[{"fold":["20","25","30","35","40","45"],"as":["s","y"]},{"filter":{"field":"y","valid":true}}],
   "mark":{"type":"point","shape":"circle","filled":false,"size":18,"strokeWidth":1.2,"opacity":1},
   "encoding":{"x":{"field":"x","type":"quantitative","scale":{"domain":[0,55],"nice":false},"axis":null},
    "y":{"field":"y","type":"quantitative","scale":{"domain":[0,47],"nice":false},"axis":null},
    "color":{"field":"s","type":"nominal","scale":{"domain":["45","40","35","30","25","20"],"range":["#bfbf00","#bf00bf","#00bfbf","#ff0000","#008000","#0000ff"]},"legend":null}}}
 ]},
 {"width":256,"height":231,
 "title":{"text":"(c) Flat vectors","dx":-7,"offset":13},
 "layer":[
  {"data":{"name":"Dc"},"transform":[{"fold":["20","25","30","35","40"],"as":["s","y"]},{"filter":{"field":"y","valid":true}}],
   "mark":{"type":"line","strokeWidth":1},
   "encoding":{"x":{"field":"x","type":"quantitative","scale":{"domain":[0,50],"nice":false},"axis":{"orient":"bottom","values":[0,10,20,30,40,50],"title":"Number of iterations","titlePadding":2,"labelAlign":{"condition":{"test":"datum.value === 50","value":"right"},"value":"center"}}},
    "y":{"field":"y","type":"quantitative","scale":{"domain":[0,42],"nice":false},"axis":{"orient":"left","values":[0,5,10,15,20,25,30,35,40],"title":"Number of correct indices","titlePadding":4}},
    "color":{"field":"s","type":"nominal","scale":{"domain":["40","35","30","25","20"],"range":["#bf00bf","#00bfbf","#ff0000","#008000","#0000ff"]},
     "legend":{"orient":"bottom-right","offset":2,"title":null,"symbolType":"stroke","symbolSize":361,"symbolStrokeWidth":1.5,"labelExpr":"'s=' + datum.label","padding":2,"rowPadding":0,"clipHeight":15.6,"labelOffset":1,"strokeColor":"#808080","fillColor":"#ffffff"}}}},
  {"data":{"name":"Bc"},"transform":[{"fold":["20","25","30","35","40"],"as":["s","y"]},{"filter":{"field":"y","valid":true}}],
   "mark":{"type":"line","strokeWidth":1,"strokeDash":[5,3]},
   "encoding":{"x":{"field":"x","type":"quantitative","scale":{"domain":[0,50],"nice":false},"axis":{"orient":"top","values":[0,10,20,30,40,50],"labels":false,"title":null}},
    "y":{"field":"y","type":"quantitative","scale":{"domain":[0,42],"nice":false},"axis":{"orient":"right","values":[0,5,10,15,20,25,30,35,40],"labels":false,"title":null}},
    "color":{"field":"s","type":"nominal","scale":{"domain":["40","35","30","25","20"],"range":["#bf00bf","#00bfbf","#ff0000","#008000","#0000ff"]},"legend":null}}},
  {"data":{"name":"Ac"},"transform":[{"fold":["20","25","30","35","40"],"as":["s","y"]},{"filter":{"field":"y","valid":true}}],
   "mark":{"type":"line","strokeWidth":1},
   "encoding":{"x":{"field":"x","type":"quantitative","scale":{"domain":[0,50],"nice":false},"axis":null},
    "y":{"field":"y","type":"quantitative","scale":{"domain":[0,42],"nice":false},"axis":null},
    "color":{"field":"s","type":"nominal","scale":{"domain":["40","35","30","25","20"],"range":["#bf00bf","#00bfbf","#ff0000","#008000","#0000ff"]},"legend":null}}},
  {"data":{"name":"Cc"},"transform":[{"fold":["20","25","30","35","40"],"as":["s","y"]},{"filter":{"field":"y","valid":true}}],
   "mark":{"type":"line","strokeWidth":1},
   "encoding":{"x":{"field":"x","type":"quantitative","scale":{"domain":[0,50],"nice":false},"axis":null},
    "y":{"field":"y","type":"quantitative","scale":{"domain":[0,42],"nice":false},"axis":null},
    "color":{"field":"s","type":"nominal","scale":{"domain":["40","35","30","25","20"],"range":["#bf00bf","#00bfbf","#ff0000","#008000","#0000ff"]},"legend":null}}},
  {"data":{"name":"Ac"},"transform":[{"fold":["20","25","30","35","40"],"as":["s","y"]},{"filter":{"field":"y","valid":true}}],
   "mark":{"type":"point","shape":"M-1,-1L1,1M-1,1L1,-1","filled":false,"size":14,"strokeWidth":1,"opacity":1},
   "encoding":{"x":{"field":"x","type":"quantitative","scale":{"domain":[0,50],"nice":false},"axis":null},
    "y":{"field":"y","type":"quantitative","scale":{"domain":[0,42],"nice":false},"axis":null},
    "color":{"field":"s","type":"nominal","scale":{"domain":["40","35","30","25","20"],"range":["#bf00bf","#00bfbf","#ff0000","#008000","#0000ff"]},"legend":null}}},
  {"data":{"name":"Cc"},"transform":[{"fold":["20","25","30","35","40"],"as":["s","y"]},{"filter":{"field":"y","valid":true}}],
   "mark":{"type":"point","shape":"circle","filled":false,"size":18,"strokeWidth":1.2,"opacity":1},
   "encoding":{"x":{"field":"x","type":"quantitative","scale":{"domain":[0,50],"nice":false},"axis":null},
    "y":{"field":"y","type":"quantitative","scale":{"domain":[0,42],"nice":false},"axis":null},
    "color":{"field":"s","type":"nominal","scale":{"domain":["40","35","30","25","20"],"range":["#bf00bf","#00bfbf","#ff0000","#008000","#0000ff"]},"legend":null}}}
 ]}
],"spacing":69,"resolve":{"scale":{"color":"independent","x":"independent","y":"independent"},"legend":{"color":"independent"}}}
],
"spacing":37,"center":true,
"resolve":{"scale":{"color":"independent","x":"independent","y":"independent"},"legend":{"color":"independent"}}
}
